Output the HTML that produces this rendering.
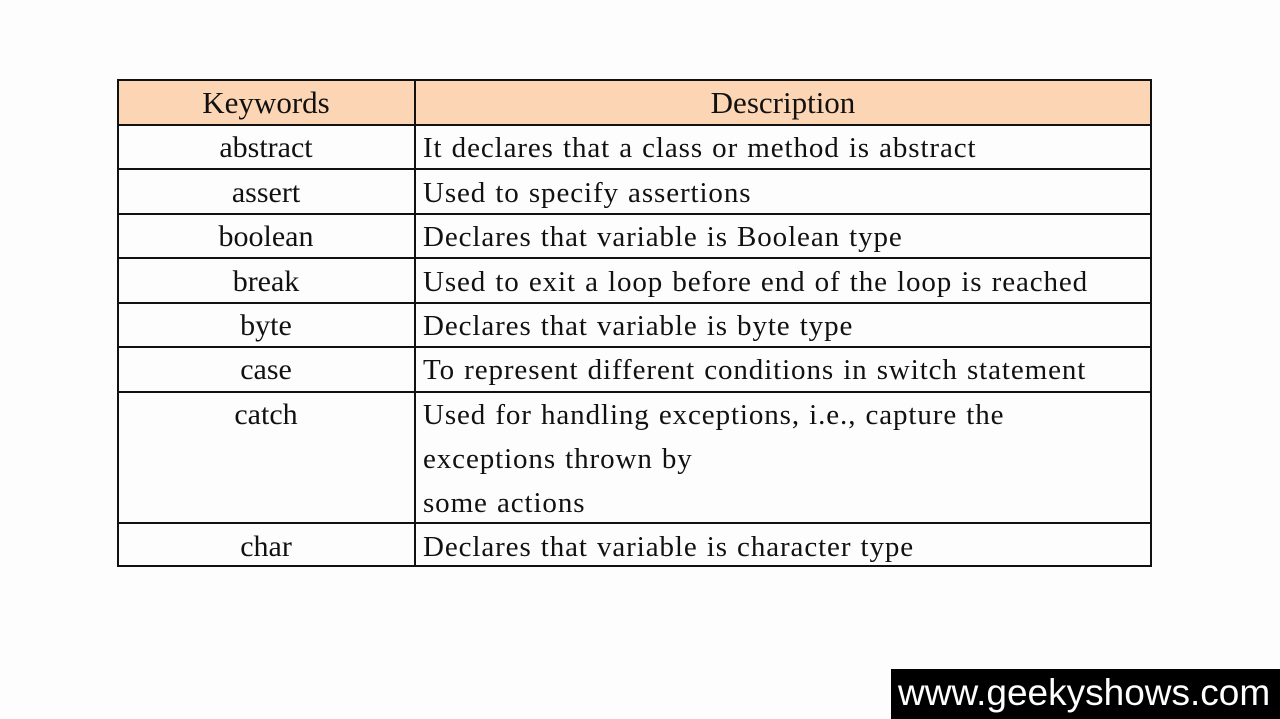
<!DOCTYPE html>
<html><head><meta charset="utf-8"><style>
body{margin:0;width:1280px;height:719px;background:#fdfdfd;position:relative;overflow:hidden;font-family:"Liberation Serif",serif;color:#111;}
.hl{position:absolute;left:117px;width:1035px;height:1.5px;background:#111;}
.vl{position:absolute;top:79px;height:488px;width:1.5px;background:#111;}
.hdrbg{position:absolute;left:117px;top:79px;width:1035px;height:45px;background:#fcd5b4;}
.k{position:absolute;left:117px;width:298px;text-align:center;font-size:30px;line-height:44px;}
.d{position:absolute;left:423px;font-size:29px;line-height:44px;letter-spacing:0.9px;word-spacing:1px;white-space:nowrap;}
.wm{position:absolute;left:891px;top:669px;width:389px;height:50px;background:#000;color:#fff;font-family:"Liberation Sans",sans-serif;font-size:37px;line-height:48px;padding-left:7px;box-sizing:border-box;white-space:nowrap;}
</style></head><body>
<div class="hdrbg"></div>
<div class="hl" style="top:79px"></div>
<div class="hl" style="top:124px"></div>
<div class="hl" style="top:168px"></div>
<div class="hl" style="top:213px"></div>
<div class="hl" style="top:257px"></div>
<div class="hl" style="top:302px"></div>
<div class="hl" style="top:346px"></div>
<div class="hl" style="top:391px"></div>
<div class="hl" style="top:522px"></div>
<div class="hl" style="top:565px"></div>
<div class="vl" style="left:117px"></div>
<div class="vl" style="left:414px"></div>
<div class="vl" style="left:1150px"></div>

<div class="k" style="top:81px;font-size:31px">Keywords</div>
<div class="k" style="left:415px;width:736px;top:81px;font-size:31px">Description</div>

<div class="k" style="top:126px">abstract</div>
<div class="d" style="top:126px">It declares that a class or method is abstract</div>
<div class="k" style="top:171px">assert</div>
<div class="d" style="top:171px">Used to specify assertions</div>
<div class="k" style="top:215px">boolean</div>
<div class="d" style="top:215px">Declares that variable is Boolean type</div>
<div class="k" style="top:260px">break</div>
<div class="d" style="top:260px">Used to exit a loop before end of the loop is reached</div>
<div class="k" style="top:304px">byte</div>
<div class="d" style="top:304px">Declares that variable is byte type</div>
<div class="k" style="top:348px">case</div>
<div class="d" style="top:348px">To represent different conditions in switch statement</div>
<div class="k" style="top:393px">catch</div>
<div class="d" style="top:393px">Used for handling exceptions, i.e., capture the</div>
<div class="d" style="top:437px">exceptions thrown by</div>
<div class="d" style="top:481px">some actions</div>
<div class="k" style="top:525px">char</div>
<div class="d" style="top:525px">Declares that variable is character type</div>

<div class="wm">www.geekyshows.com</div>
</body></html>
